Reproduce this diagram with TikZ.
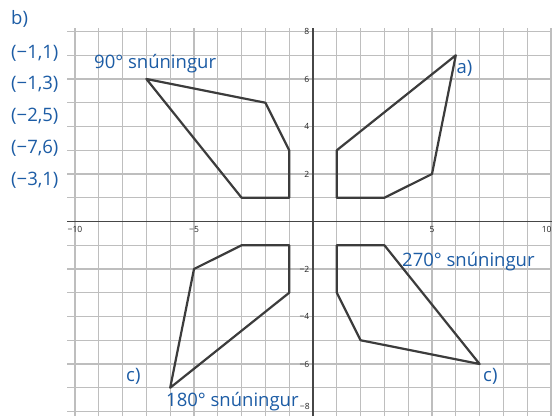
\documentclass[tikz,border=0pt]{standalone}
\usepackage{fontspec}
\setmainfont{Open Sans}
\definecolor{txtblue}{RGB}{28,92,165}
\definecolor{gridgray}{RGB}{190,190,190}
\definecolor{axisgray}{RGB}{70,70,70}
\definecolor{shapegray}{RGB}{60,60,60}
\begin{document}
\begin{tikzpicture}[x=1pt,y=1pt,
  lbl/.style={inner sep=0pt, text=txtblue, font=\fontsize{18.5}{20}\selectfont, anchor=base west},
  ticklbl/.style={inner sep=0pt, text=black!85, font=\fontsize{8.5}{9}\selectfont},
  gridline/.style={gridgray, line width=1.1pt},
  axisline/.style={axisgray, line width=1.6pt},
  figline/.style={shapegray, line width=2.2pt, line join=round}]
\useasboundingbox (0,0) rectangle (552,416);
\fill[white] (0,0) rectangle (552,416);
\begin{scope}[shift={(313,194.5)}, x=23.8pt, y=23.75pt]
  \foreach \i in {-10,...,10} \draw[gridline] (\i,-8.19) -- (\i,8.15);
  \foreach \j in {-8,...,8} \draw[gridline] (-10.33,\j) -- (10.04,\j);
  \coordinate (xl) at (-10.33,0);
  \coordinate (xr) at (10.04,0);
  \coordinate (yb) at (0,-8.19);
  \coordinate (yt) at (0,8.15);
  \draw[axisline] (xl) -- (xr);
  \draw[axisline] (yb) -- (yt);
  % tick labels
  \node[ticklbl, anchor=base] (xm10) at (-10,-0.48) {−10};
  \node[ticklbl, anchor=base] (xm5) at (-5,-0.48) {−5};
  \node[ticklbl, anchor=base] (xp5) at (5,-0.48) {5};
  \node[ticklbl, anchor=base east] (xp10) at (10.03,-0.48) {10};
  \node[ticklbl, anchor=east] (yp8) at (-0.15,8) {8};
  \node[ticklbl, anchor=east] (yp6) at (-0.15,6) {6};
  \node[ticklbl, anchor=east] (yp4) at (-0.15,4) {4};
  \node[ticklbl, anchor=east] (yp2) at (-0.15,2) {2};
  \node[ticklbl, anchor=east] (ym2) at (-0.15,-2) {−2};
  \node[ticklbl, anchor=east] (ym4) at (-0.15,-4) {−4};
  \node[ticklbl, anchor=east] (ym6) at (-0.15,-6) {−6};
  \node[ticklbl, anchor=east] (ym8) at (-0.13,-7.8) {−8};
  % original shape a)
  \coordinate (a1) at (1,1);
  \coordinate (a2) at (3,1);
  \coordinate (a3) at (5,2);
  \coordinate (a4) at (6,7);
  \coordinate (a5) at (1,3);
  \draw[figline] (a1) -- (a2) -- (a3) -- (a4) -- (a5) -- cycle;
  % 90 degree rotation
  \coordinate (b1) at (-1,1);
  \coordinate (b2) at (-1,3);
  \coordinate (b3) at (-2,5);
  \coordinate (b4) at (-7,6);
  \coordinate (b5) at (-3,1);
  \draw[figline] (b1) -- (b2) -- (b3) -- (b4) -- (b5) -- cycle;
  % 180 degree rotation
  \coordinate (c1) at (-1,-1);
  \coordinate (c2) at (-3,-1);
  \coordinate (c3) at (-5,-2);
  \coordinate (c4) at (-6,-7);
  \coordinate (c5) at (-1,-3);
  \draw[figline] (c1) -- (c2) -- (c3) -- (c4) -- (c5) -- cycle;
  % 270 degree rotation
  \coordinate (d1) at (1,-1);
  \coordinate (d2) at (1,-3);
  \coordinate (d3) at (2,-5);
  \coordinate (d4) at (7,-6);
  \coordinate (d5) at (3,-1);
  \draw[figline] (d1) -- (d2) -- (d3) -- (d4) -- (d5) -- cycle;
\end{scope}
% blue labels
\node[lbl] (bhead) at (11,391) {b)};
\node[lbl] (p1) at (11,357.7) {(−1,1)};
\node[lbl] (p2) at (11,326) {(−1,3)};
\node[lbl] (p3) at (11,294.3) {(−2,5)};
\node[lbl] (p4) at (11,262.7) {(−7,6)};
\node[lbl] (p5) at (11,231) {(−3,1)};
\node[lbl] (r90) at (94,347.7) {90° snúningur};
\node[lbl] (alab) at (456.5,342.7) {a)};
\node[lbl] (r270) at (402,149.3) {270° snúningur};
\node[lbl] (r180) at (166,9.3) {180° snúningur};
\node[lbl] (cright) at (483,35) {c)};
\node[lbl] (cleft) at (126,35) {c)};
\end{tikzpicture}
\end{document}
